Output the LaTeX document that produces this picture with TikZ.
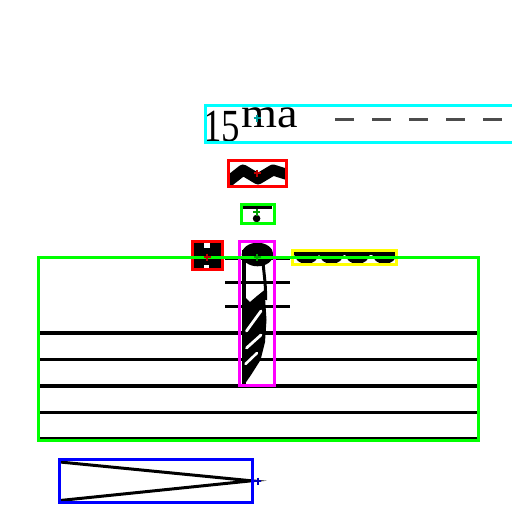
\documentclass[tikz,border=0pt]{standalone}
\usepackage{graphicx}
\usepackage{fontspec}
\setmainfont{Liberation Serif}
\definecolor{bcyan}{RGB}{0,255,255}
\definecolor{bred}{RGB}{255,0,0}
\definecolor{bgreen}{RGB}{0,255,0}
\definecolor{bmag}{RGB}{255,0,255}
\definecolor{byel}{RGB}{255,255,0}
\definecolor{bblue}{RGB}{0,0,255}
\definecolor{mteal}{RGB}{0,160,160}
\definecolor{mred}{RGB}{190,0,0}
\definecolor{mgreen}{RGB}{0,160,0}
\definecolor{mblue}{RGB}{0,0,180}
\begin{document}
\begin{tikzpicture}[x=1pt,y=-1pt,
  staffline/.style={line width=3.2pt,black},
  bbox/.style={line width=3pt},
  dashseg/.style={line width=2.6pt,black!70},
  mk/.style={line width=1.8pt}]
\useasboundingbox (0,0) rectangle (512,512);
\fill[white] (0,0) rectangle (512,512);
% staff
\foreach \y in {333,359.5,386,412.5,438.8}{\draw[staffline] (40,\y) -- (477,\y);}
% ledger lines
\foreach \y in {258,282.3,306.7}{\draw[staffline] (225,\y) -- (290,\y);}
% ottava text
\node[anchor=base west,inner sep=0] (fifteen) at (203,141) {\scalebox{0.8}[1]{\fontsize{46}{46}\selectfont 15}};
\node[anchor=base west,inner sep=0] (ma) at (241,127.5) {\scalebox{1.1}[1]{\fontsize{42}{42}\selectfont ma}};
\foreach \x in {335,372,409,446,483}{\draw[dashseg] (\x,119.3) -- ++(19,0);}
% mordent zigzag
\begin{scope}
\clip (229.5,161.5) rectangle (285.5,185.5);
\draw[line width=11pt,line join=round] (224,185) -- (243,170) -- (258,179) -- (273,170) -- (292,176);
\end{scope}
% tenuto-staccato
\draw[line width=2.4pt] (243,207.5) -- (272,207.5);
\fill (256.6,218.5) circle (3.8);
% small accidental glyph
\fill (193.5,243) rectangle (220.5,269);
\fill[white] (204,243) rectangle (209.5,247.5);
\fill[white] (203.5,264.5) rectangle (209,269);
% wavy trill extension
\fill (293,250.5) rectangle (397,255);
\foreach \c in {306.5,331.5,357.5,384.5}{\fill (\c-12.5,252) .. controls (\c-12.5,268) and (\c+12.5,268) .. (\c+12.5,252) -- cycle;}
% note with tremolo
\fill (257.5,254.5) ellipse (15.8 and 11.8);
\fill (242,250) rectangle (245.5,386);
\draw[line width=3pt] (263,262) .. controls (264,275) and (266,285) .. (265.5,300);
\fill (242,294) -- (250,302) -- (257,296) -- (264.5,290) -- (266.5,320) -- (265,342) -- (260.5,360) -- (251,375) -- (243,386.5) -- (242,386.5) -- cycle;
\draw[white,line width=2.8pt,line cap=round] (246.5,331) -- (261,311);
\draw[white,line width=2.8pt,line cap=round] (246.5,348) -- (261,335);
\draw[white,line width=2.6pt,line cap=round] (245.5,364) -- (257,353);
% hairpin
\draw[line width=3pt] (60,462) -- (251.5,480.8) -- (60,500.5);
% boxes
\draw[bbox,bcyan] (205.7,105.7) rectangle (530,142.5);
\draw[bbox,bred] (228.5,160.5) rectangle (286.5,186.5);
\draw[bbox,bgreen] (241,204.5) rectangle (274,223.5);
\draw[bbox,bred] (192.2,241.8) rectangle (222,269.8);
\draw[bbox,bmag] (239.5,241.5) rectangle (274.8,385.8);
\draw[bbox,byel] (292.3,250.5) rectangle (396.8,264.2);
\draw[bbox,bgreen] (38.3,257) rectangle (478.7,440.8);
\draw[bbox,bblue] (59.3,459.7) rectangle (252.5,502.3);
% markers
\foreach \p/\c in {{(257,118)}/mteal,{(257,173)}/mred,{(256.6,212)}/mgreen,{(257,257)}/mgreen,{(207,257)}/mred,{(257.7,481)}/mblue}{
  \draw[mk,\c] \p ++(-3.5,0) -- ++(7,0);
  \draw[mk,\c] \p ++(0,-3.5) -- ++(0,7);
}
\end{tikzpicture}
\end{document}
